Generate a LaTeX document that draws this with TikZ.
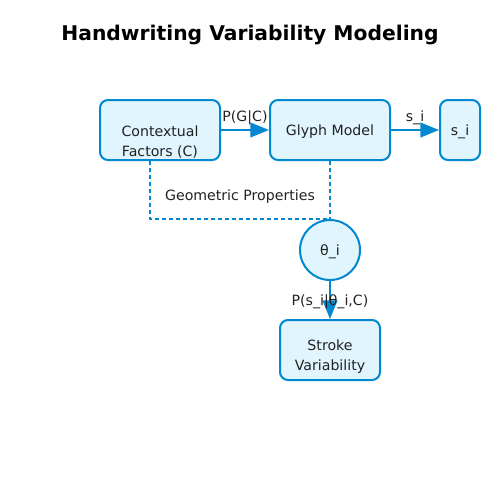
\documentclass[tikz,border=0pt]{standalone}
\usepackage{fontspec}
\setmainfont{DejaVu Sans}
\usetikzlibrary{arrows.meta,positioning}

\definecolor{lineblue}{HTML}{0288D1}
\definecolor{fillblue}{HTML}{E1F5FE}
\definecolor{inkgrey}{HTML}{222222}

\tikzset{
  box/.style={draw=lineblue, fill=fillblue, line width=1.5pt, rounded corners=6pt, inner sep=0pt},
  txt/.style={text=inkgrey, align=center, font=\fontsize{10.6}{15}\selectfont},
  lbl/.style={text=inkgrey, font=\fontsize{10.6}{12}\selectfont, inner sep=1pt},
  flow/.style={draw=lineblue, line width=1.5pt, -{Triangle[length=14pt, width=11pt]}},
  link/.style={draw=lineblue, line width=1.1pt, dash pattern=on 3pt off 2.25pt}
}

\begin{document}
\begin{tikzpicture}[x=0.75pt, y=-0.75pt]
  \useasboundingbox (0,0) rectangle (500,500);

  \node[font=\bfseries\fontsize{15.2}{18}\selectfont] (title) at (250,35) {Handwriting Variability Modeling};

  % boxes
  \node[box, minimum width=90pt, minimum height=45pt] (ctx) at (160,130) {};
  \node[box, minimum width=90pt, minimum height=45pt] (glyph) at (330,130) {};
  \node[box, minimum width=30pt, minimum height=45pt] (s) at (460,130) {};
  \node[box, circle, minimum size=45pt] (theta) at (330,250) {};
  \node[box, minimum width=75pt, minimum height=45pt] (stroke) at (330,350) {};

  % texts
  \node[txt] (ctx-t) at (160,142) {Contextual\\Factors (C)};
  \node[txt] (glyph-t) at (330,132) {Glyph Model};
  \node[txt] (s-t) at (460,132) {s\_i};
  \node[txt] (theta-t) at (330,252) {θ\_i};
  \node[txt] (stroke-t) at (330,357) {Stroke\\Variability};

  % connectors
  \draw[flow] (ctx) -- (glyph) node[lbl, midway, yshift=9.4pt] {P(G|C)};
  \draw[flow] (glyph) -- (s) node[lbl, midway, yshift=9.4pt] {s\_i};
  \draw[link] ([xshift=-7.5pt]ctx.south) |- (theta.north);
  \draw[link] (glyph.south) -- (theta.north);
  \node[lbl] (geo) at (240,197) {Geometric Properties};
  \draw[flow] (theta) -- (stroke) node[lbl, midway, yshift=-1.5pt] {P(s\_i|θ\_i,C)};
\end{tikzpicture}
\end{document}
